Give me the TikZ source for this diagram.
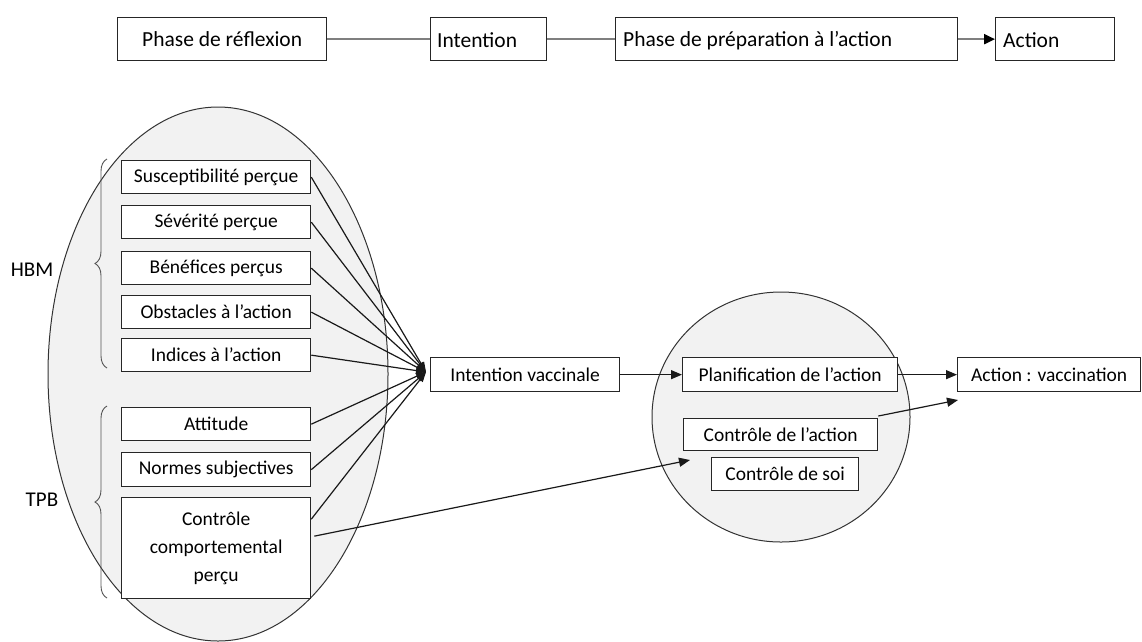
\documentclass[tikz,border=0pt]{standalone}
\usepackage{fontspec}
\setmainfont{Carlito}
\usetikzlibrary{arrows.meta,decorations.pathreplacing,calc}
\definecolor{ellfill}{HTML}{F2F2F2}
\definecolor{graylink}{HTML}{7F7F7F}
\definecolor{bracecol}{HTML}{555555}
\begin{document}
\begin{tikzpicture}[x=1pt,y=-1pt,
  box/.style={draw=black!85,line width=1.3pt,fill=white,inner sep=0pt,anchor=north west,font=\fontsize{19.5}{28}\selectfont,align=center},
  topbox/.style={box,font=\fontsize{21.5}{24}\selectfont},
  toptext/.style={anchor=west,inner sep=0pt,font=\fontsize{21.5}{24}\selectfont},
  link/.style={line width=1.2pt,draw=black!90},
  arr/.style={link,-{Triangle[length=11pt,width=9pt]}},
  convarr/.style={link,-{Triangle[length=10pt,width=7pt]}},
  graylink/.style={line width=2.2pt,draw=graylink},
  bracestyle/.style={draw=bracecol,line width=0.9pt,decorate,decoration={brace,amplitude=12pt,aspect=0.5}},
  lab/.style={font=\fontsize{21}{24}\selectfont}]
\useasboundingbox (0,0) rectangle (1142,641);

% ---- top row ----
\node[topbox,minimum width=209,minimum height=43] (refl) at (117,17) {Phase de réflexion};
\node[topbox,minimum width=116,minimum height=43] (intent) at (430,17) {};
\node[topbox,minimum width=342,minimum height=43] (prep) at (615,17) {};
\node[topbox,minimum width=119,minimum height=43] (act) at (995,17) {};
\node[toptext] (intentt) at ([xshift=7pt,yshift=-1pt]intent.west) {Intention};
\node[toptext] (prept) at ([xshift=8pt,yshift=-1pt]prep.west) {Phase de préparation à l’action};
\node[toptext] (actt) at ([xshift=8pt,yshift=-1pt]act.west) {Action};
\draw[graylink] (refl.east) -- (intent.west);
\draw[graylink] (intent.east) -- (prep.west);
\draw[graylink,-{Triangle[length=11pt,width=10pt,color=black]}] (prep.east) -- (act.west);

% ---- groups ----
\draw[fill=ellfill,draw=black!80,line width=1pt] (218,374) ellipse [x radius=170,y radius=267];
\draw[fill=ellfill,draw=black!80,line width=1pt] (781,417) ellipse [x radius=129,y radius=125];

% ---- left boxes ----
\node[box,minimum width=189,minimum height=33] (susc) at (121,160) {Susceptibilité perçue};
\node[box,minimum width=189,minimum height=33] (sev) at (121,205) {Sévérité perçue};
\node[box,minimum width=189,minimum height=33] (bene) at (121,251) {Bénéfices perçus};
\node[box,minimum width=189,minimum height=33] (obst) at (121,295) {Obstacles à l’action};
\node[box,minimum width=189,minimum height=33] (indi) at (121,338) {Indices à l’action};
\node[box,minimum width=189,minimum height=33] (att) at (121,407) {Attitude};
\node[box,minimum width=189,minimum height=34] (norm) at (121,452) {Normes subjectives};
\node[box,minimum width=189,minimum height=101] (ccp) at (121,497) {Contrôle\\comportemental\\perçu};

% ---- braces and labels ----
\draw[bracestyle] (107,368) -- (107,159);
\draw[bracestyle] (107,598) -- (107,406);
\node[lab] (hbm) at (32,270) {HBM};
\node[lab] (tpb) at (42,500) {TPB};

% ---- right part ----
\node[box,minimum width=189,minimum height=34] (iv) at (430,357) {Intention vaccinale};
\node[box,minimum width=215,minimum height=34] (plan) at (682,357) {Planification de l’action};
\node[box,minimum width=194,minimum height=32] (cact) at (683,418) {Contrôle de l’action};
\node[box,minimum width=147,minimum height=33] (csoi) at (711,457) {Contrôle de soi};
\node[box,minimum width=183,minimum height=34] (avac) at (957,357) {Action : vaccination};

\coordinate (conv) at (426,372);
\coordinate (cactin) at (690,460);
\coordinate (avacin) at (958,400);

\foreach \n in {susc,sev,bene,obst,indi,att,norm}
  \draw[convarr] (\n.east) -- (conv);
\draw[convarr] ([yshift=29pt]ccp.east) -- (conv);
\draw[arr] ([xshift=3pt,yshift=12pt]ccp.east) -- (cactin);
\draw[arr] (iv.east) -- (plan.west);
\draw[arr] (plan.east) -- (avac.west);
\draw[arr] ([yshift=2pt]cact.north east) -- (avacin);
\end{tikzpicture}
\end{document}
